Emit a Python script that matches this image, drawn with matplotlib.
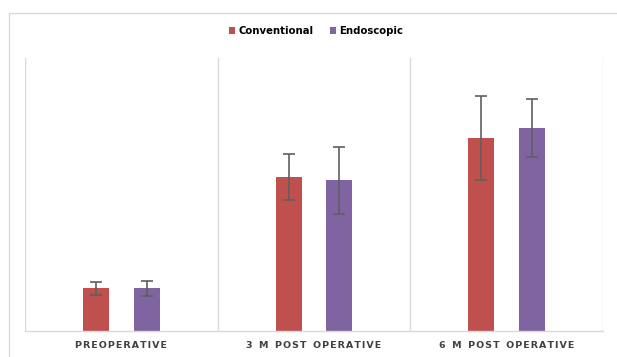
import numpy as np
import matplotlib.pyplot as plt
from matplotlib.patches import Rectangle

categories = ["PREOPERATIVE", "3 M POST OPERATIVE", "6 M POST OPERATIVE"]
conventional = [43, 154, 193]
endoscopic = [43, 151, 203]
conventional_err = [6.5, 23, 42]
endoscopic_err = [7.5, 33.5, 29]

red = "#C0504D"
purple = "#8064A2"
grid = "#D9D9D9"

fig = plt.figure(figsize=(6.17, 3.57), dpi=100)
ax = fig.add_axes([25 / 617, 26 / 357, 578 / 617, 273 / 357])

x = np.arange(len(categories))
off = 0.132
w = 0.135
err_kw = dict(ecolor="#5f5f5f", elinewidth=1.2, capsize=4, capthick=1.2)
ax.bar(x - off, conventional, w, yerr=conventional_err, color=red,
       label="Conventional", error_kw=err_kw, zorder=2)
ax.bar(x + off, endoscopic, w, yerr=endoscopic_err, color=purple,
       label="Endoscopic", error_kw=err_kw, zorder=2)

ax.set_xlim(-0.5, 2.5)
ax.set_ylim(0, 273)
ax.set_yticks([])
ax.set_xticks([])
for b in [-0.5, 0.5, 1.5, 2.5]:
    ax.axvline(b, color=grid, lw=1, zorder=1)
for s in ["top", "left", "right"]:
    ax.spines[s].set_visible(False)
ax.spines["bottom"].set_color(grid)
ax.spines["bottom"].set_linewidth(1)

# spaced-out category labels (hair spaces between letters)
def spaced(s):
    return "  ".join("\u200a".join(word) for word in s.split())

for i, c in enumerate(categories):
    ax.text(i, -15, spaced(c), ha="center", va="center",
            fontsize=6.8, fontweight="bold", color="#404040")

ax.legend(loc="center", bbox_to_anchor=(316 / 617, 1 - 31 / 357),
          bbox_transform=fig.transFigure, ncol=2, frameon=False,
          handlelength=0.65, handleheight=0.65,
          handletextpad=0.3, columnspacing=1.6,
          prop={"weight": "bold", "size": 7.3})

# outer chart border
fig.patches.append(Rectangle((9 / 617, -0.1), 1.2, 1 - 13 / 357 + 0.1,
                             transform=fig.transFigure, fill=False,
                             edgecolor=grid, lw=1))

fig.savefig("out.png", dpi=100)
